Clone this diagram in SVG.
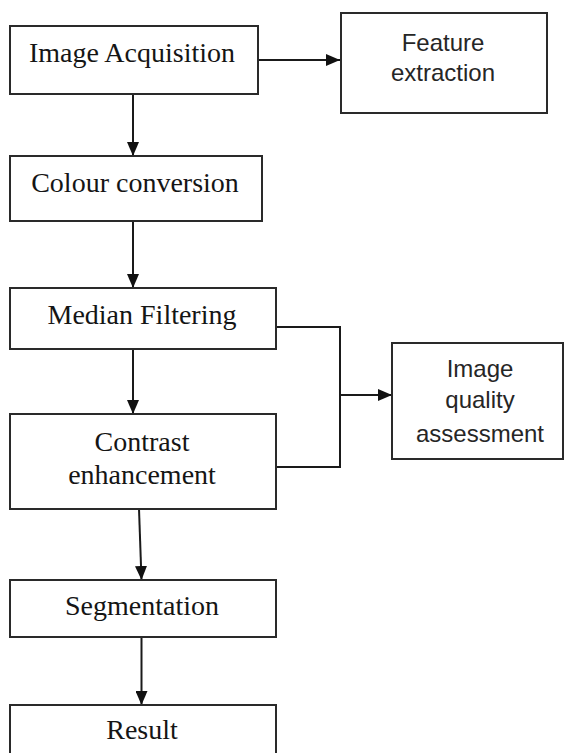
<svg xmlns="http://www.w3.org/2000/svg" width="565" height="753" viewBox="0 0 565 753">
  <defs>
    <marker id="arrow" markerWidth="14" markerHeight="12" refX="14" refY="6" orient="auto" markerUnits="userSpaceOnUse">
      <path d="M0,0 L14,6 L0,12 Z" fill="#111"/>
    </marker>
  </defs>
  <style>
    .box { fill: #fff; stroke: #2a2a2a; stroke-width: 2; }
    .serif { font-family: "Liberation Serif", "Times New Roman", serif; font-size: 28px; fill: #151515; text-anchor: middle; }
    .sans { font-family: "Liberation Sans", Arial, sans-serif; font-size: 24px; fill: #262626; text-anchor: middle; }
    .link { fill: none; stroke: #1a1a1a; stroke-width: 2; }
  </style>
  <rect width="565" height="753" fill="#fff"/>

  <g id="connectors">
    <line class="link" x1="258" y1="60" x2="340" y2="60" marker-end="url(#arrow)"/>
    <line class="link" x1="133" y1="94" x2="133" y2="156" marker-end="url(#arrow)"/>
    <line class="link" x1="133" y1="221" x2="133" y2="288" marker-end="url(#arrow)"/>
    <line class="link" x1="133" y1="349" x2="133" y2="414" marker-end="url(#arrow)"/>
    <polyline class="link" points="276,327 340,327 340,467 276,467"/>
    <line class="link" x1="340" y1="395" x2="392" y2="395" marker-end="url(#arrow)"/>
    <line class="link" x1="139" y1="509" x2="141.5" y2="580" marker-end="url(#arrow)"/>
    <line class="link" x1="141.5" y1="637" x2="141.5" y2="705" marker-end="url(#arrow)"/>
  </g>

  <g id="image-acquisition">
    <rect class="box" x="10" y="26" width="248" height="68"/>
    <text class="serif" x="132" y="62">Image Acquisition</text>
  </g>

  <g id="feature-extraction">
    <rect class="box" x="341" y="13" width="206" height="100"/>
    <text class="sans" x="443" y="51">Feature</text>
    <text class="sans" x="443" y="81">extraction</text>
  </g>

  <g id="colour-conversion">
    <rect class="box" x="10" y="156" width="252" height="65"/>
    <text class="serif" x="135" y="192">Colour conversion</text>
  </g>

  <g id="median-filtering">
    <rect class="box" x="10" y="288" width="266" height="61"/>
    <text class="serif" x="142" y="324">Median Filtering</text>
  </g>

  <g id="contrast-enhancement">
    <rect class="box" x="10" y="414" width="266" height="95"/>
    <text class="serif" x="142" y="451">Contrast</text>
    <text class="serif" x="142" y="484">enhancement</text>
  </g>

  <g id="image-quality-assessment">
    <rect class="box" x="392" y="343" width="171" height="116"/>
    <text class="sans" x="480" y="377">Image</text>
    <text class="sans" x="480" y="408">quality</text>
    <text class="sans" x="480" y="442">assessment</text>
  </g>

  <g id="segmentation">
    <rect class="box" x="10" y="580" width="266" height="57"/>
    <text class="serif" x="142" y="615">Segmentation</text>
  </g>

  <g id="result">
    <rect class="box" x="10" y="705" width="266" height="60"/>
    <text class="serif" x="142" y="739">Result</text>
  </g>
</svg>
